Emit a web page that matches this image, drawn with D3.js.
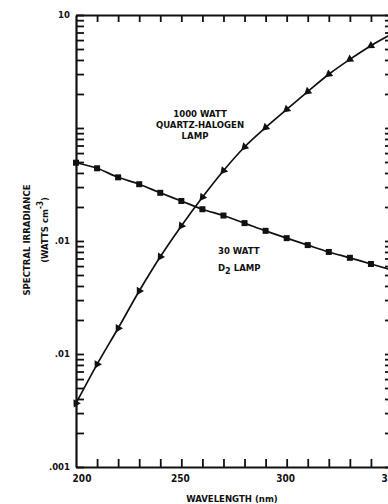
<!DOCTYPE html>
<html>
<head>
<meta charset="utf-8">
<script src="https://cdn.jsdelivr.net/npm/d3@7"></script>
<style>
  html, body { margin: 0; padding: 0; background: #fff; }
  svg { display: block; }
  text { font-family: "DejaVu Sans Condensed", "Liberation Sans Narrow", sans-serif; font-weight: bold; fill: #111; }
</style>
</head>
<body>
<svg id="chart" width="388" height="504"></svg>
<script>
// wavelengths (nm) sampled every 10 nm
const wavelengths = [200, 210, 220, 230, 240, 250, 260, 270, 280, 290, 300, 310, 320, 330, 340, 350];
// 1000 W quartz-halogen lamp (triangles)
const halogen = [0.00366, 0.0081, 0.0169, 0.0361, 0.0726, 0.136, 0.244, 0.419, 0.679, 1.01, 1.46, 2.10, 2.99, 4.05, 5.35, 6.8];
// 30 W D2 lamp (squares)
const deuterium = [0.493, 0.440, 0.366, 0.318, 0.267, 0.226, 0.191, 0.168, 0.144, 0.123, 0.106, 0.092, 0.080, 0.071, 0.0626, 0.0554];

const xTickLabels = [200, 250, 300, 350];
const yLabelValues = [10, 0.1, 0.01, 0.001];
const yLabelTexts = ['10', '.01', '.01', '.001'];

const svg = d3.select('#chart');
const plotLeft = 76, plotRight = 392, plotTop = 15, plotBottom = 467;

const x = d3.scaleLinear().domain([200, 350]).range([plotLeft, plotRight]);
const y = d3.scaleLog().domain([0.001, 10]).range([plotBottom, plotTop]);

const minorX = d3.range(210, 350, 10);
const minorY = y.ticks();

// bottom axis, ticks pointing up
const bottomAxis = svg.append('g')
  .attr('transform', `translate(0,${plotBottom})`)
  .call(d3.axisBottom(x).tickValues(minorX).tickSize(-8).tickSizeOuter(0).tickFormat(() => ''));

// top axis, ticks pointing down
const topAxis = svg.append('g')
  .attr('transform', `translate(0,${plotTop})`)
  .call(d3.axisTop(x).tickValues(minorX).tickSize(-7).tickSizeOuter(0).tickFormat(() => ''));

// left axis, ticks pointing right
const leftAxis = svg.append('g')
  .attr('transform', `translate(${plotLeft},0)`)
  .call(d3.axisLeft(y).tickValues(minorY).tickSize(-8).tickSizeOuter(0).tickFormat(() => ''));

// right axis, ticks pointing left
const rightAxis = svg.append('g')
  .attr('transform', `translate(${plotRight},0)`)
  .call(d3.axisRight(y).tickValues(minorY).tickSize(-7).tickSizeOuter(0).tickFormat(() => ''));

[bottomAxis, topAxis, leftAxis, rightAxis].forEach((g) => {
  g.select('.domain').attr('stroke', '#111').attr('stroke-width', 2.2);
  g.selectAll('.tick line').attr('stroke', '#111').attr('stroke-width', 1.8);
});

// y labels
svg.append('g')
  .selectAll('text')
  .data(yLabelValues)
  .join('text')
  .attr('x', plotLeft - 6)
  .attr('y', (d) => y(d))
  .attr('dy', '0.35em')
  .attr('text-anchor', 'end')
  .attr('font-size', 9.5)
  .text((d, i) => yLabelTexts[i]);

// x labels
svg.append('g')
  .selectAll('text')
  .data(xTickLabels)
  .join('text')
  .attr('x', (d) => x(d) + (d === 200 ? 6 : -1))
  .attr('y', 482)
  .attr('text-anchor', 'middle')
  .attr('font-size', 10)
  .text((d) => d);

svg.append('text')
  .attr('x', 232)
  .attr('y', 502)
  .attr('text-anchor', 'middle')
  .attr('font-size', 9.5)
  .text('WAVELENGTH (nm)');

// y title
const yTitle = svg.append('g').attr('transform', 'translate(30,240) rotate(-90)');
yTitle.append('text')
  .attr('text-anchor', 'middle')
  .attr('font-size', 9.5)
  .text('SPECTRAL IRRADIANCE');
const yTitle2 = yTitle.append('text')
  .attr('x', 10)
  .attr('y', 18)
  .attr('text-anchor', 'middle')
  .attr('font-size', 9.5);
yTitle2.append('tspan').text('(WATTS  cm');
yTitle2.append('tspan').attr('dy', -5).attr('font-size', 8).text('-3');
yTitle2.append('tspan').attr('dy', 5).text(')');

// lines
const halogenData = wavelengths.map((w, i) => ({ w, v: halogen[i] }));
const d2Data = wavelengths.map((w, i) => ({ w, v: deuterium[i] }));

const line = d3.line().x((d) => x(d.w)).y((d) => y(d.v)).curve(d3.curveMonotoneX);

const plot = svg.append('g');

plot.append('path')
  .datum(halogenData)
  .attr('d', line)
  .attr('fill', 'none')
  .attr('stroke', '#111')
  .attr('stroke-width', 1.7);

plot.append('path')
  .datum(d2Data)
  .attr('d', line)
  .attr('fill', 'none')
  .attr('stroke', '#111')
  .attr('stroke-width', 1.7);

// triangle markers pointing back along the curve
plot.append('g')
  .selectAll('path')
  .data(halogenData.slice(0, 15))
  .join('path')
  .attr('d', d3.symbol(d3.symbolTriangle, 30))
  .attr('fill', '#111')
  .attr('transform', (d, i) => {
    const a = halogenData[Math.max(i - 1, 0)];
    const b = halogenData[i + 1];
    const dx = x(a.w) - x(b.w);
    const dy = y(a.v) - y(b.v);
    const ang = Math.atan2(dy, dx) * 180 / Math.PI + 90;
    return `translate(${x(d.w)},${y(d.v)}) rotate(${ang})`;
  });

// square markers
plot.append('g')
  .selectAll('rect')
  .data(d2Data.slice(0, 15))
  .join('rect')
  .attr('x', (d) => x(d.w) - 3)
  .attr('y', (d) => y(d.v) - 3)
  .attr('width', 6)
  .attr('height', 6)
  .attr('fill', '#111');

// annotations
const ann1 = svg.append('g');
[['1000 WATT', 200, 117], ['QUARTZ-HALOGEN', 200, 128], ['LAMP', 195, 139]].forEach(([t, ax, ay]) => {
  ann1.append('text').attr('x', ax).attr('y', ay).attr('text-anchor', 'middle').attr('font-size', 9.5).text(t);
});

svg.append('text').attr('x', 218).attr('y', 254).attr('font-size', 9.5).text('30 WATT');
const d2 = svg.append('text').attr('x', 218).attr('y', 271).attr('font-size', 9.5);
d2.append('tspan').text('D');
d2.append('tspan').attr('dy', 3).attr('font-size', 9).text('2');
d2.append('tspan').attr('dy', -3).text(' LAMP');
</script>
</body>
</html>
